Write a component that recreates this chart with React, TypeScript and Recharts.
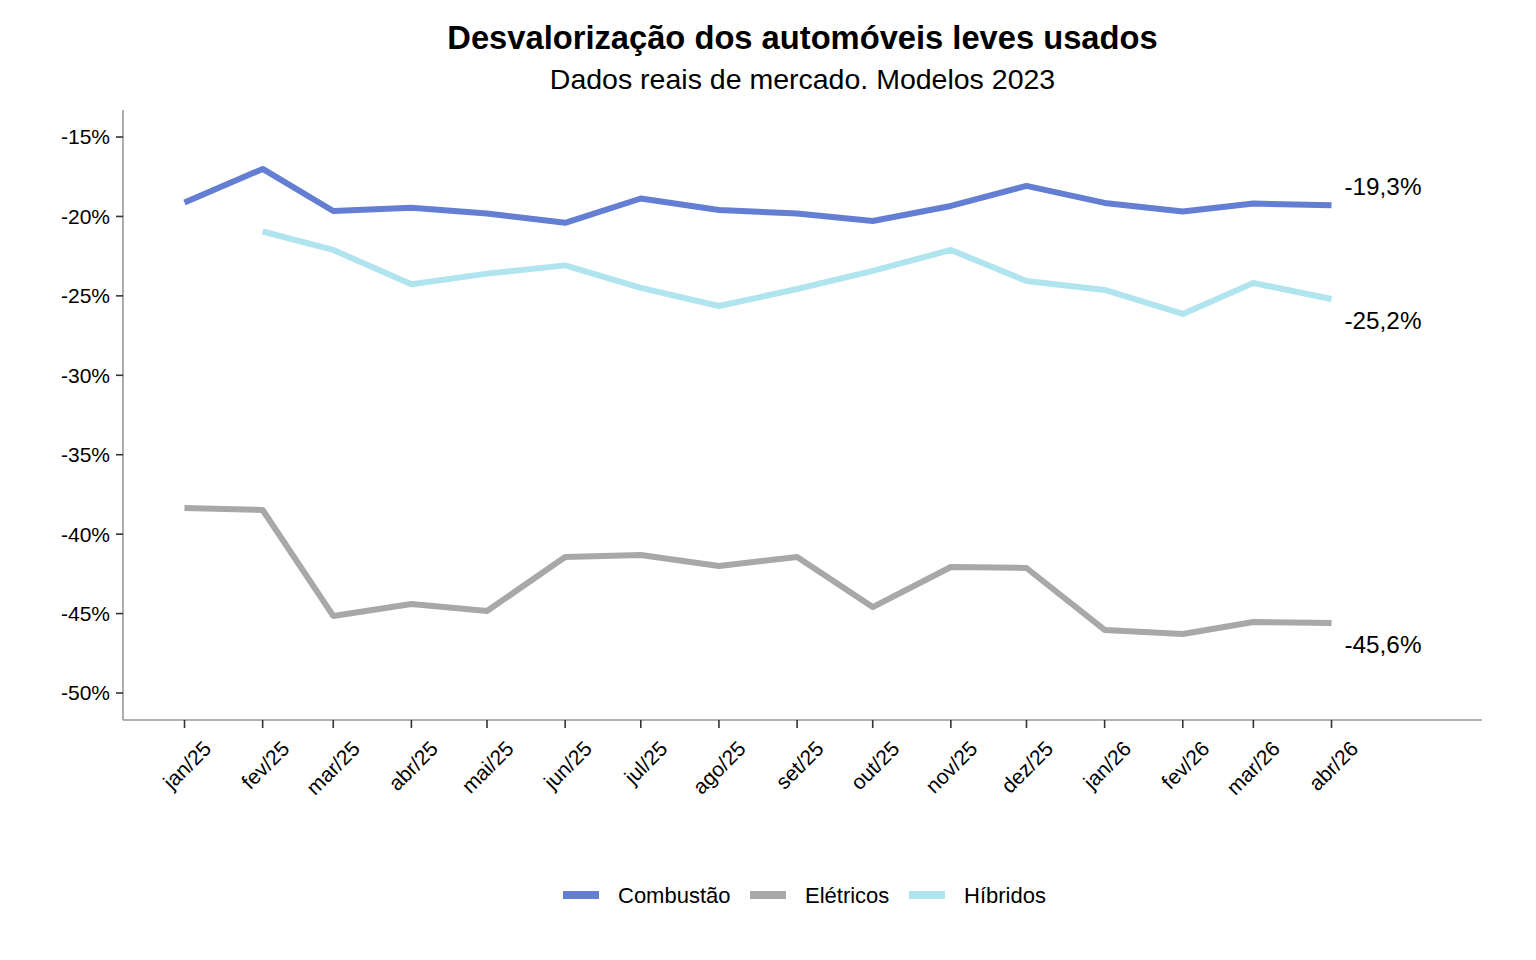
import React from 'react';
import { LineChart, Line, XAxis, YAxis, LabelList } from 'recharts';

// ---- data ----
const months = [
  '2025-01', '2025-02', '2025-03', '2025-04', '2025-05', '2025-06', '2025-07', '2025-08',
  '2025-09', '2025-10', '2025-11', '2025-12', '2026-01', '2026-02', '2026-03', '2026-04',
];
const monthLabels = [
  'jan/25', 'fev/25', 'mar/25', 'abr/25', 'mai/25', 'jun/25', 'jul/25', 'ago/25',
  'set/25', 'out/25', 'nov/25', 'dez/25', 'jan/26', 'fev/26', 'mar/26', 'abr/26',
];
const combustao = [
  -19.12, -17.01, -19.66, -19.45, -19.82, -20.4, -18.87, -19.6,
  -19.82, -20.29, -19.34, -18.08, -19.15, -19.69, -19.19, -19.3,
];
const eletricos = [
  -38.35, -38.48, -45.15, -44.4, -44.84, -41.44, -41.31, -42.01,
  -41.44, -44.59, -42.07, -42.13, -46.03, -46.29, -45.53, -45.6,
];
const hibridos = [
  null, -20.95, -22.11, -24.27, -23.6, -23.08, -24.5, -25.64,
  -24.57, -23.43, -22.11, -24.06, -24.63, -26.14, -24.19, -25.2,
];
const seriesKeys = ['combustao', 'eletricos', 'hibridos'];
const seriesNames = ['Combustão', 'Elétricos', 'Híbridos'];
const seriesColors = ['#637ed3', '#a8a8a8', '#b0e4ee'];
const endLabels = ['-19,3%', '-45,6%', '-25,2%'];
const yTicks = [-15, -20, -25, -30, -35, -40, -45, -50];

const title = 'Desvalorização dos automóveis leves usados';
const subtitle = 'Dados reais de mercado. Modelos 2023';

// ---- derived table ----
const DAY = 86400000;
const toTime = (m: string) => {
  const [y, mo] = m.split('-').map(Number);
  return Date.UTC(y, mo - 1, 1);
};
const times = months.map(toTime);
const labelByTime: Record<number, string> = {};
times.forEach((t, i) => (labelByTime[t] = monthLabels[i]));
const data = months.map((m, i) => ({
  t: times[i],
  combustao: combustao[i],
  eletricos: eletricos[i],
  hibridos: hibridos[i],
}));
const xDomain = [times[0] - 24.4 * DAY, times[times.length - 1] + 59.7 * DAY];
const lastIndex = months.length - 1;

const FONT = '"Liberation Sans", Arial, Helvetica, sans-serif';

const XTick = (props: any) => {
  const { x, y, payload } = props;
  const ax = x + 28;
  const ay = y + 20;
  return (
    <text
      x={ax}
      y={ay}
      textAnchor="end"
      fontSize={21}
      fontFamily={FONT}
      fill="#000"
      transform={`rotate(-45 ${ax} ${ay})`}
    >
      {labelByTime[payload.value]}
    </text>
  );
};

const labelOffsets = [-10, 29.5, 29.5];

const makeEndLabel = (si: number) => (p: any) => {
  if (p.index !== lastIndex) return null;
  return (
    <text
      x={Number(p.x) + 13}
      y={Number(p.y) + labelOffsets[si]}
      fontSize={24.3}
      fontFamily={FONT}
      fill="#000"
      textAnchor="start"
    >
      {endLabels[si]}
    </text>
  );
};

const legendKeyX = [563, 750, 909];

export default function App() {
  return (
    <div style={{ position: 'absolute', left: 0, top: 0, width: 1536, height: 960, background: '#fff', fontFamily: FONT }}>
      <LineChart
        width={1536}
        height={960}
        data={data}
        margin={{ top: 110, right: 54, bottom: 180, left: 63 }}
      >
        <XAxis
          dataKey="t"
          type="number"
          scale="linear"
          domain={xDomain}
          allowDataOverflow
          ticks={times}
          interval={0}
          height={60}
          tick={<XTick />}
          tickSize={8}
          tickMargin={2}
          axisLine={{ stroke: '#999', strokeWidth: 1.6 }}
          tickLine={{ stroke: '#333', strokeWidth: 1.6 }}
        />
        <YAxis
          type="number"
          domain={[-51.7, -13.3]}
          allowDataOverflow
          ticks={yTicks}
          interval={0}
          width={60}
          tickFormatter={(v: number) => `${v}%`}
          tick={{ fill: '#000', fontSize: 21, fontFamily: FONT }}
          tickSize={7}
          tickMargin={6}
          axisLine={{ stroke: '#999', strokeWidth: 1.6 }}
          tickLine={{ stroke: '#333', strokeWidth: 1.6 }}
        />
        {seriesKeys.map((k, si) => (
          <Line
            key={k}
            type="linear"
            dataKey={k}
            name={seriesNames[si]}
            stroke={seriesColors[si]}
            strokeWidth={6}
            strokeLinecap="butt"
            strokeLinejoin="round"
            dot={false}
            activeDot={false}
            connectNulls={false}
            isAnimationActive={false}
          >
            <LabelList dataKey={k} content={makeEndLabel(si)} />
          </Line>
        ))}
      </LineChart>
      <svg
        width={1536}
        height={960}
        style={{ position: 'absolute', left: 0, top: 0, pointerEvents: 'none' }}
      >
        <text x={802.5} y={49} textAnchor="middle" fontSize={32.7} fontWeight="bold" fontFamily={FONT} fill="#000">
          {title}
        </text>
        <text x={802.5} y={89} textAnchor="middle" fontSize={28.5} fontFamily={FONT} fill="#000">
          {subtitle}
        </text>
        {seriesNames.map((n, si) => (
          <g key={n}>
            <line x1={legendKeyX[si]} x2={legendKeyX[si] + 36} y1={895} y2={895} stroke={seriesColors[si]} strokeWidth={8} />
            <text x={legendKeyX[si] + 55} y={902.5} fontSize={22} fontFamily={FONT} fill="#000">
              {n}
            </text>
          </g>
        ))}
      </svg>
    </div>
  );
}
